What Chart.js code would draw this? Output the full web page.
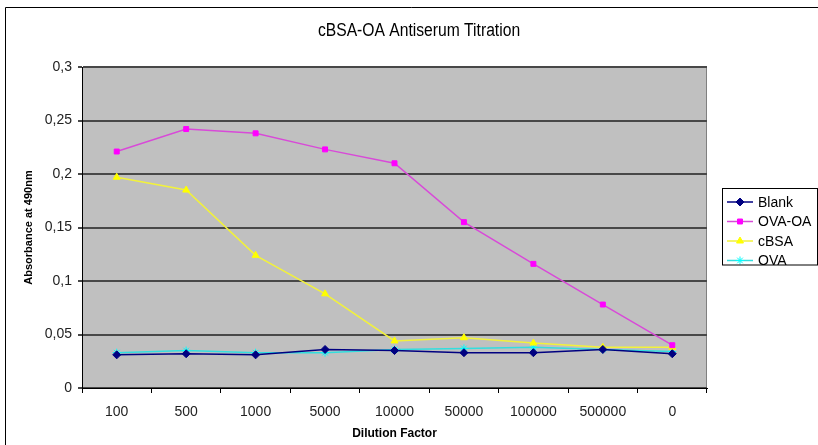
<!DOCTYPE html>
<html>
<head>
<meta charset="utf-8">
<script src="https://cdn.jsdelivr.net/npm/chart.js@4.4.1/dist/chart.umd.min.js"></script>
<style>
  html, body { margin: 0; padding: 0; background: #fff; }
  #wrap { width: 818px; height: 445px; }
</style>
</head>
<body>
<div id="wrap"><canvas id="c" width="818" height="445"></canvas></div>
<script>
// Dilution series on the x axis
const dilutions = ['100', '500', '1000', '5000', '10000', '50000', '100000', '500000', '0'];

// Absorbance at 490 nm for each serum / antigen combination
const blank = [0.031, 0.032, 0.031, 0.036, 0.035, 0.033, 0.033, 0.036, 0.032];
const ovaOa = [0.221, 0.242, 0.238, 0.223, 0.210, 0.155, 0.116, 0.078, 0.040];
const cbsa  = [0.197, 0.185, 0.124, 0.088, 0.044, 0.047, 0.042, 0.038, 0.038];
const ova   = [0.033, 0.035, 0.033, 0.033, 0.036, 0.037, 0.038, 0.036, 0.034];

const seriesNames = ['Blank', 'OVA-OA', 'cBSA', 'OVA'];
const yTickLabels = ['0', '0,05', '0,1', '0,15', '0,2', '0,25', '0,3'];

const chartTitle = 'cBSA-OA Antiserum Titration';
const yTitle = 'Absorbance at 490nm';
const xTitle = 'Dilution Factor';

const FONT = '"Liberation Sans", Arial, sans-serif';

function series(label, data, line, point, style, radius) {
  return {
    label, data,
    borderColor: line, backgroundColor: point,
    pointBackgroundColor: point, pointBorderColor: point,
    pointStyle: style, pointRadius: radius, pointHoverRadius: radius,
    pointBorderWidth: 1, borderWidth: 1.5, tension: 0, fill: false
  };
}

// Background, outer frame, title and boxed legend
const frame = {
  id: 'frame',
  beforeDraw(chart) {
    const { ctx, chartArea: a } = chart;
    ctx.save();
    ctx.fillStyle = '#fff';
    ctx.fillRect(0, 0, chart.width, chart.height);
    ctx.fillStyle = '#c0c0c0';
    ctx.fillRect(a.left, a.top, a.right - a.left, a.bottom - a.top);
    ctx.strokeStyle = '#808080';
    ctx.lineWidth = 1;
    ctx.beginPath();
    ctx.moveTo(a.left, a.top + 0.5);
    ctx.lineTo(a.right - 0.5, a.top + 0.5);
    ctx.lineTo(a.right - 0.5, a.bottom);
    ctx.stroke();

    ctx.strokeStyle = '#000';
    ctx.beginPath();
    ctx.moveTo(5.5, chart.height);
    ctx.lineTo(5.5, 7.5);
    ctx.lineTo(chart.width, 7.5);
    ctx.stroke();

    // condensed title: tall glyphs squeezed horizontally
    ctx.fillStyle = '#000';
    ctx.font = '18px ' + FONT;
    ctx.textAlign = 'center';
    ctx.textBaseline = 'middle';
    ctx.translate(419, 31);
    ctx.scale(0.87, 1);
    ctx.fillText(chartTitle, 0, 0);
    ctx.restore();
  },
  afterDraw(chart) {
    const { ctx } = chart;
    const box = { x: 722.5, y: 188.5, w: 95, h: 76.5 };
    ctx.save();
    ctx.fillStyle = '#fff';
    ctx.fillRect(box.x, box.y, box.w, box.h);
    ctx.beginPath();
    ctx.rect(box.x, box.y, box.w, box.h);
    ctx.clip();
    chart.data.datasets.forEach((ds, i) => {
      const y = 202 + i * 19.5;
      ctx.strokeStyle = ds.borderColor;
      ctx.lineWidth = 1.5;
      ctx.beginPath();
      ctx.moveTo(727, y);
      ctx.lineTo(753, y);
      ctx.stroke();
      ctx.fillStyle = ds.pointBackgroundColor;
      ctx.strokeStyle = ds.pointBorderColor;
      ctx.lineWidth = 1;
      Chart.helpers.drawPoint(ctx, { pointStyle: ds.pointStyle, radius: ds.pointRadius, rotation: 0, borderWidth: 1 }, 740, y);
      ctx.fillStyle = '#000';
      ctx.font = '14px ' + FONT;
      ctx.textAlign = 'left';
      ctx.textBaseline = 'middle';
      ctx.fillText(ds.label, 758, y + 1);
    });
    ctx.restore();
    ctx.save();
    ctx.strokeStyle = '#000';
    ctx.lineWidth = 1;
    ctx.strokeRect(box.x, box.y, box.w, box.h);
    ctx.restore();
  }
};

new Chart(document.getElementById('c'), {
  type: 'line',
  data: {
    labels: dilutions,
    datasets: [
      series(seriesNames[0], blank, '#000080', '#000080', 'rectRot', 4),
      series(seriesNames[1], ovaOa, '#d84ad8', '#ff00ff', 'rect', 3.5),
      series(seriesNames[2], cbsa,  '#f2f23a', '#ffff00', 'triangle', 4),
      series(seriesNames[3], ova,   '#33dede', '#00ffff', 'star', 4)
    ]
  },
  options: {
    responsive: false,
    animation: false,
    devicePixelRatio: 1,
    layout: { padding: { left: 0, right: 111, top: 67, bottom: 0 } },
    plugins: {
      legend: { display: false },
      title: { display: false },
      tooltip: { enabled: false }
    },
    scales: {
      x: {
        type: 'category',
        offset: true,
        afterFit(s) { s.height = 57; },
        grid: { offset: true, drawOnChartArea: false, drawTicks: true, tickLength: 5, color: '#000' },
        border: { color: '#000', width: 1 },
        ticks: { color: '#222', font: { family: FONT, size: 14 }, padding: 11, maxRotation: 0, autoSkip: false },
        title: { display: true, text: xTitle, color: '#000', font: { family: FONT, size: 12, weight: 'bold' }, padding: { top: 4, bottom: 4 } }
      },
      y: {
        min: 0, max: 0.3,
        afterFit(s) { s.width = 82; },
        ticks: {
          stepSize: 0.05,
          color: '#222',
          font: { family: FONT, size: 14 },
          padding: 6,
          callback: (v, i) => yTickLabels[i]
        },
        grid: { color: '#484848', lineWidth: 2, tickLength: 4 },
        border: { color: '#000', width: 1 },
        title: { display: true, text: yTitle, color: '#000', font: { family: FONT, size: 11, weight: 'bold' }, padding: { top: 22, bottom: 0 } }
      }
    }
  },
  plugins: [frame]
});
</script>
</body>
</html>
